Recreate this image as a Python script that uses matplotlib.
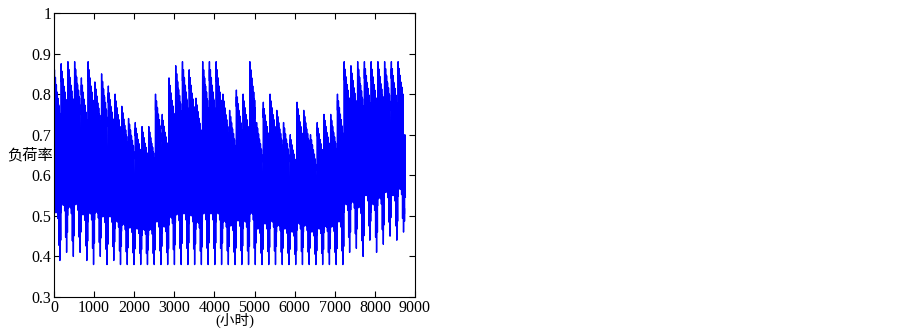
import numpy as np
import matplotlib
matplotlib.use('Agg')
import matplotlib.pyplot as plt

# weekly peak of the hourly load rate (one per week)
week_peak = [0.86, 0.875, 0.88, 0.88, 0.84, 0.88, 0.83, 0.85, 0.82, 0.80,
             0.77, 0.74, 0.73, 0.72, 0.72, 0.80, 0.75, 0.84, 0.87, 0.88,
             0.86, 0.79, 0.88, 0.88, 0.88, 0.80, 0.76, 0.81, 0.80, 0.88,
             0.73, 0.78, 0.80, 0.76, 0.73, 0.70, 0.78, 0.76, 0.70, 0.73,
             0.75, 0.75, 0.80, 0.88, 0.87, 0.88, 0.88, 0.88, 0.88, 0.88,
             0.88, 0.88, 0.70]
# weekly minimum
week_floor = [0.39, 0.41, 0.40, 0.41, 0.39, 0.38, 0.40, 0.38, 0.39, 0.38,
              0.38, 0.38, 0.38, 0.38, 0.38, 0.38, 0.38, 0.38, 0.38, 0.38,
              0.38, 0.38, 0.38, 0.38, 0.38, 0.38, 0.38, 0.38, 0.38, 0.38,
              0.38, 0.38, 0.38, 0.38, 0.38, 0.38, 0.38, 0.38, 0.38, 0.38,
              0.38, 0.38, 0.38, 0.41, 0.42, 0.40, 0.44, 0.41, 0.43, 0.45,
              0.44, 0.46, 0.43]
# daily high / low as share of the weekly range (mon..sun)
day_hi = [1.0, 0.96, 0.92, 0.88, 0.85, 0.81, 0.38]
day_lo = [0.21, 0.25, 0.26, 0.25, 0.22, 0.08, 0.0]
# typical shape of one day (0 = night low, 1 = day high)
hour_shape = [0.15, 0.08, 0.00, 0.05, 0.12, 0.25, 0.45, 0.65, 0.80, 0.90,
              0.95, 1.00, 0.92, 0.88, 0.92, 0.95, 0.95, 0.92, 0.88, 0.82,
              0.72, 0.58, 0.42, 0.28]

hours = np.arange(8760)
w = hours // 168
d = (hours // 24) % 7
h = hours % 24
pk = np.array(week_peak)[w]
fl = np.array(week_floor)[w]
hi = fl + (pk - fl) * np.array(day_hi)[d]
lo = fl + (pk - fl) * np.array(day_lo)[d]
load = lo + (hi - lo) * np.array(hour_shape)[h]

plt.rcParams['font.family'] = ['Liberation Serif', 'Noto Sans CJK SC']
plt.rcParams['path.simplify'] = False

fig = plt.figure(figsize=(9.03, 3.29), dpi=100)
ax = fig.add_axes([54/903, 32/329, 361/903, 284/329])
ax.plot(hours, load, color='#0000ff', linewidth=1.0)

ax.set_xlim(0, 9000)
ax.set_ylim(0.3, 1.0)
ax.set_xticks(range(0, 9001, 1000))
ax.set_yticks([0.3, 0.4, 0.5, 0.6, 0.7, 0.8, 0.9, 1.0])
ax.set_yticklabels(['0.3', '0.4', '0.5', '0.6', '0.7', '0.8', '0.9', '1'])
ax.tick_params(direction='in', top=True, right=True, length=4, labelsize=11.5, pad=2)

ax.set_ylabel('负荷率', rotation=0, ha='right', va='center', fontsize=11)
ax.yaxis.set_label_coords(-0.003, 0.5)
ax.set_xlabel('(小时)', fontsize=10.5, va='center')
ax.xaxis.set_label_coords(0.5, -0.082)

fig.savefig('out.png', dpi=100)
